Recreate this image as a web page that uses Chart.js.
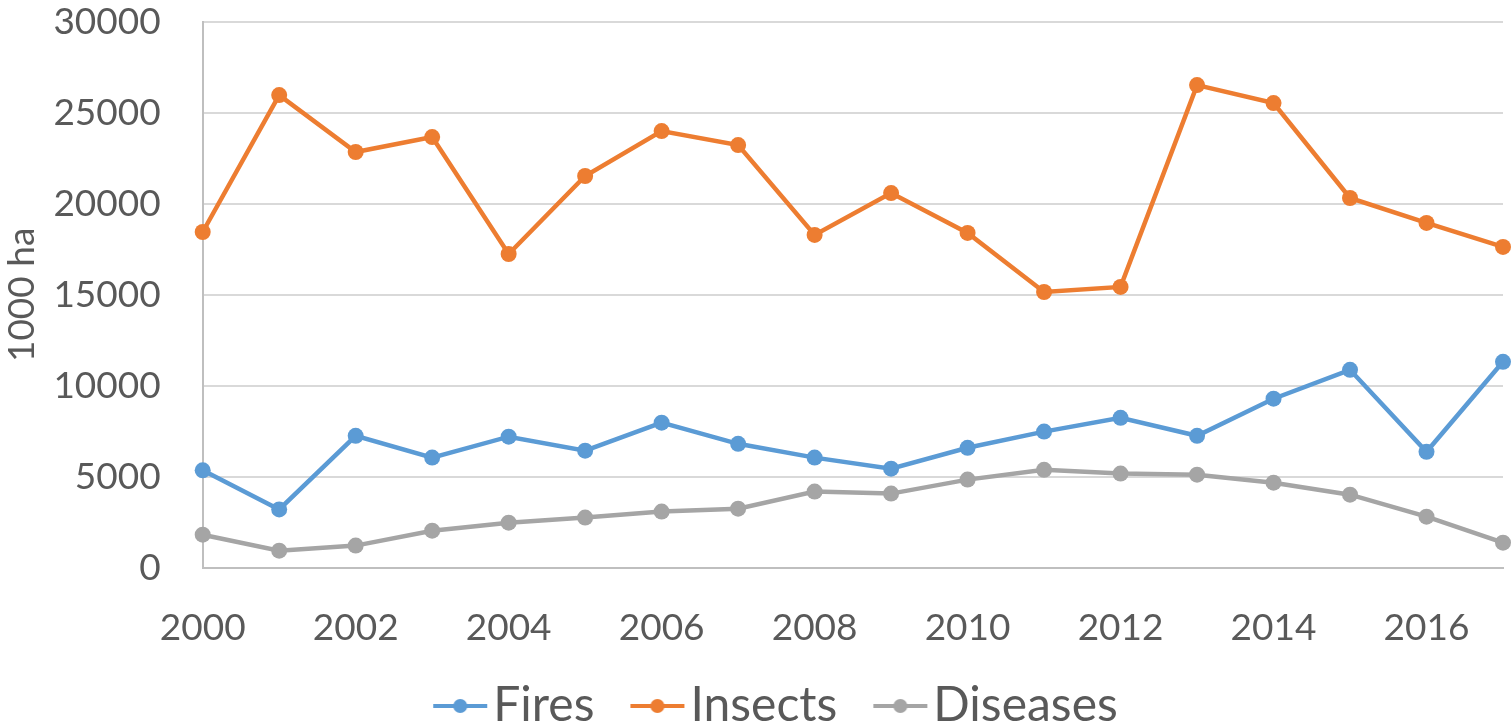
<!DOCTYPE html>
<html>
<head>
<meta charset="utf-8">
<script src="https://cdn.jsdelivr.net/npm/chart.js@4"></script>
<style>
  html, body { margin: 0; padding: 0; background: #fff; }
  #wrap { width: 1511px; height: 727px; }
</style>
</head>
<body>
<div id="wrap"><canvas id="c"></canvas></div>
<script>
const years = ['2000','2001','2002','2003','2004','2005','2006','2007','2008',
               '2009','2010','2011','2012','2013','2014','2015','2016','2017'];
const fires = [5350, 3200, 7250, 6050, 7200, 6430, 7970, 6810, 6050,
               5440, 6590, 7480, 8240, 7250, 9290, 10880, 6370, 11320];
const insects = [18460, 25990, 22860, 23680, 17250, 21540, 24010, 23240, 18300,
                 20600, 18410, 15160, 15440, 26540, 25550, 20330, 18960, 17640];
const diseases = [1810, 930, 1210, 2030, 2470, 2750, 3080, 3240, 4180,
                  4070, 4840, 5380, 5170, 5110, 4670, 4010, 2800, 1370];

const seriesNames = ['Fires', 'Insects', 'Diseases'];
const seriesColors = ['#5b9bd5', '#ed7d31', '#a5a5a5'];
const textColor = '#595959';
const fontFamily = 'Lato, "Open Sans", sans-serif';

// legend marker: short line with a dot in the middle
function legendMarker(color) {
  const cv = document.createElement('canvas');
  cv.width = 110; cv.height = 18;
  const g = cv.getContext('2d');
  g.strokeStyle = color;
  g.lineWidth = 4;
  g.beginPath();
  g.moveTo(39, 9); g.lineTo(93, 9);
  g.stroke();
  g.fillStyle = color;
  g.beginPath();
  g.arc(66, 9, 7, 0, Math.PI * 2);
  g.fill();
  return cv;
}

// the original legend sits a little right of the canvas centre
const legendShift = {
  id: 'legendShift',
  beforeDraw(chart) {
    if (chart.legend && !chart.legend._shifted) {
      chart.legend.left += 18;
      chart.legend.right += 18;
      chart.legend._shifted = true;
    }
  }
};

const makeSet = (i, values) => ({
  label: seriesNames[i],
  data: values,
  borderColor: seriesColors[i],
  backgroundColor: seriesColors[i],
  borderWidth: 4.5,
  pointRadius: 8,
  pointHoverRadius: 8,
  pointBorderWidth: 0,
  tension: 0,
  clip: false
});

new Chart(document.getElementById('c'), {
  type: 'line',
  data: {
    labels: years,
    datasets: [makeSet(0, fires), makeSet(1, insects), makeSet(2, diseases)]
  },
  plugins: [legendShift],
  options: {
    responsive: true,
    maintainAspectRatio: false,
    animation: false,
    layout: { padding: { top: 0, right: 0, left: 0, bottom: -13 } },
    plugins: {
      tooltip: { enabled: false },
      legend: {
        position: 'bottom',
        labels: {
          usePointStyle: true,
          pointStyleWidth: 40,
          padding: 32,
          color: textColor,
          font: { family: fontFamily, size: 48 },
          generateLabels(chart) {
            return chart.data.datasets.map((ds, i) => ({
              text: ds.label,
              fontColor: textColor,
              pointStyle: legendMarker(seriesColors[i]),
              datasetIndex: i,
              hidden: false,
              lineWidth: 0
            }));
          }
        }
      }
    },
    scales: {
      x: {
        offset: false,
        grid: { display: false, drawTicks: true, tickLength: 38, tickColor: 'rgba(0,0,0,0)' },
        border: { display: true, color: '#bfbfbf', width: 2 },
        ticks: {
          autoSkip: false,
          maxRotation: 0,
          padding: 0,
          color: textColor,
          font: { family: fontFamily, size: 37 },
          callback(v, i) { return i % 2 === 0 ? years[i] : ''; }
        }
      },
      y: {
        min: 0,
        max: 30000,
        grid: { color: '#d9d9d9', lineWidth: 2, drawTicks: true, tickLength: 42, tickColor: 'rgba(0,0,0,0)' },
        border: { display: true, color: '#bfbfbf', width: 2 },
        ticks: {
          stepSize: 5000,
          padding: 0,
          color: textColor,
          font: { family: fontFamily, size: 37 },
          callback(v) { return String(v); }
        },
        title: {
          display: true,
          text: '1000 ha',
          color: textColor,
          font: { family: fontFamily, size: 37 },
          padding: { top: 0, bottom: 9 }
        }
      }
    }
  }
});
</script>
</body>
</html>
